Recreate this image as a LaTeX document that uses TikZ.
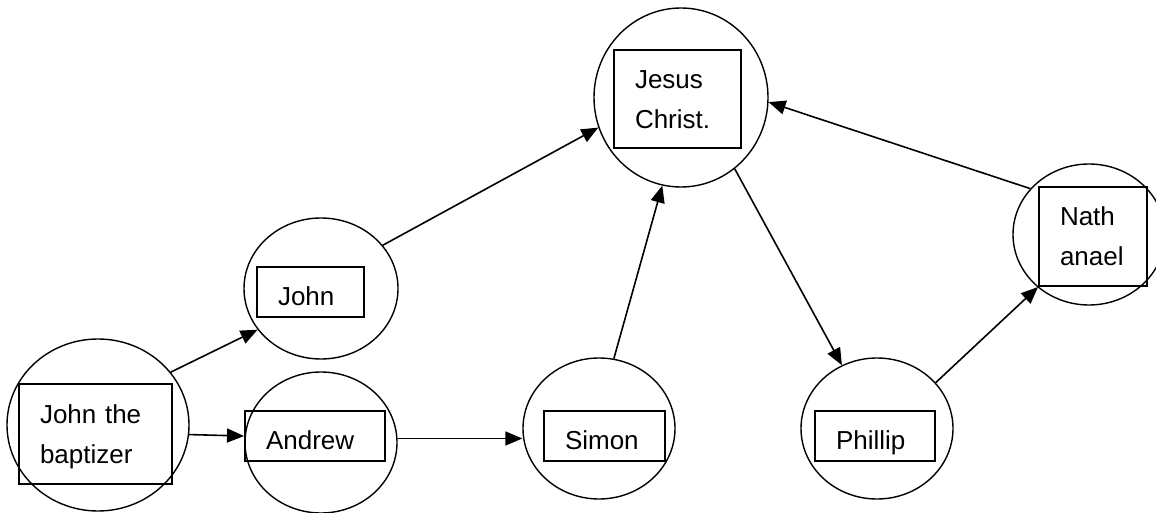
\documentclass[tikz,border=0pt]{standalone}
\usepackage{fontspec}
\setmainfont{Liberation Sans}
\usetikzlibrary{shapes.geometric,arrows.meta}
\begin{document}
\begin{tikzpicture}[
      x=1pt, y=1pt,
      person/.style={draw, ellipse, line width=1.4pt, inner sep=0, minimum width=152pt, minimum height=141pt},
      namebox/.style={draw, line width=1.9pt, inner ysep=0, inner xsep=21pt, align=left, minimum height=50pt,
        text height=30pt, text depth=3pt, font=\fontsize{26}{40}\selectfont},
      tallbox/.style={namebox, text height=24pt, text depth=45.5pt},
      link/.style={-{Triangle[length=17pt, width=14pt]}, line width=1.6pt}
    ]
    \useasboundingbox (0,0) rectangle (1156,512);
    \node[person, minimum width=182pt, minimum height=172pt] (baptizer) at (98,87) {};
    \node[person] (andrew) at (321,69.5) {};
    \node[person, minimum width=154pt] (john) at (321,223.5) {};
    \node[person] (simon) at (599,83.5) {};
    \node[person] (phillip) at (877,83.5) {};
    \node[person, minimum width=174pt, minimum height=179pt] (jesus) at (681,414.5) {};
    \node[person] (nath) at (1089,277.5) {};
    \node[tallbox, text width=111pt, minimum height=100pt] (baptizerbox) at (95.5,78) {John the\\baptizer};
    \node[namebox, text width=98pt] (andrewbox) at (315,76) {Andrew};
    \node[namebox, text width=65pt] (johnbox) at (310.5,220) {John};
    \node[namebox, text width=79pt] (simonbox) at (604.5,76) {Simon};
    \node[namebox, text width=78pt] (phillipbox) at (875,76) {Phillip};
    \node[tallbox, text width=85pt, minimum height=98pt] (jesusbox) at (677.5,413) {Jesus\\Christ.};
    \node[tallbox, text width=66pt, minimum height=99pt] (nathbox) at (1093,275.5) {Nath\\anael};
    \draw[link] (baptizer.36) -- (john.213);
    \draw[link] (baptizer.-6) -- (andrewbox.west);
    \draw[link] (john.35) -- (jesus.200);
    \draw[link] (andrew.3) -- (andrew.3 -| simon.west);
    \draw[link] (simon.78) -- (jesus.258);
    \draw[link] (jesus.-53) -- (phillip.119);
    \draw[link] (phillip.38) -- (nathbox.south west);
    \draw[link] (nath.142) -- (jesus.-3);
\end{tikzpicture}
\end{document}
